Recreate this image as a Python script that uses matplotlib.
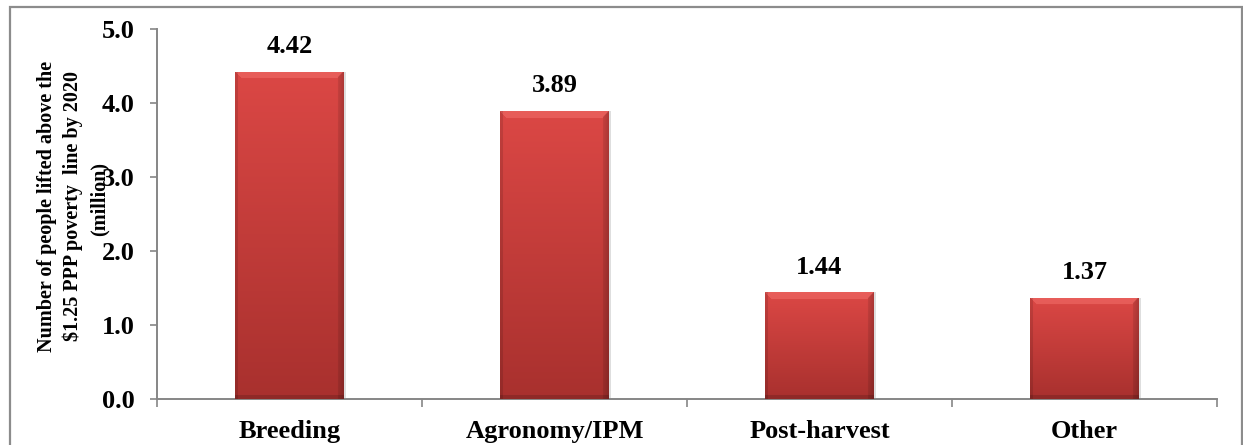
import matplotlib
matplotlib.use('Agg')
import matplotlib.pyplot as plt
import numpy as np
from matplotlib.patches import Rectangle

categories = ['Breeding', 'Agronomy/IPM', 'Post-harvest', 'Other']
people_lifted = [4.42, 3.89, 1.44, 1.37]
y_ticks = [0.0, 1.0, 2.0, 3.0, 4.0, 5.0]
y_label_main = 'Number of people lifted above the\n\\$1.25 PPP poverty  line by 2020'
y_label_unit = '(million)'

plt.rcParams['font.family'] = ['Liberation Serif', 'DejaVu Serif']
plt.rcParams['font.weight'] = 'bold'

W, H = 1243, 445
fig = plt.figure(figsize=(W / 100, H / 100), dpi=100)
ax = fig.add_axes([157 / W, (H - 399) / H, (1217 - 157) / W, (399 - 29) / H])

# outer frame round the whole chart
fig.patches.append(Rectangle((10 / W, -0.05), (1242 - 10) / W, (H - 7) / H + 0.05,
                             transform=fig.transFigure, fill=False,
                             edgecolor='#8c8c8c', linewidth=1.6))

x = np.arange(len(categories))
bar_w = 0.41
bars = ax.bar(x, people_lifted, width=bar_w, color='#c83c3a', edgecolor='none', zorder=2)


def bar_image(h, nx=108):
    ny = max(int(h * 74), 10)
    t = np.linspace(0, 1, ny)[:, None]            # 0 = top, 1 = bottom
    top = np.array([0.86, 0.28, 0.27])
    bot = np.array([0.66, 0.19, 0.18])
    img = top + (bot - top) * t[..., None]
    img = np.repeat(img, nx, axis=1)
    xs = np.arange(nx)
    ys = np.arange(ny)
    # bevel: light top edge with slanted corners, darker sides and bottom
    for j in range(7):
        row = (xs >= j) & (xs < nx - j)
        img[j, row, :] = img[j, row, :] * 0.55 + np.array([0.97, 0.47, 0.45]) * 0.45
    for j in range(6):
        col = nx - 1 - j
        img[j:, col, :] *= 0.8 + 0.02 * j
    img[:, :3, :] *= 0.88
    img[ys >= ny - 4, :, :] *= 0.85
    return np.clip(img, 0, 1)


for rect, v in zip(bars, people_lifted):
    x0 = rect.get_x()
    # soft shadow to the right
    ax.add_patch(Rectangle((x0 + 0.01, 0), bar_w, v, facecolor='#dedede',
                           edgecolor='none', zorder=1))
    im = ax.imshow(bar_image(v), extent=(x0, x0 + bar_w, 0, v), aspect='auto',
                   interpolation='bilinear', zorder=3)
    im.set_clip_path(rect)
    ax.annotate(f'{v:.2f}', (rect.get_x() + bar_w / 2, v), xytext=(0, 10),
                textcoords='offset points', ha='center', va='bottom',
                fontsize=19, fontweight='bold')

ax.set_xlim(-0.5, len(categories) - 0.5)
ax.set_ylim(0, 5)
ax.set_yticks(y_ticks)
ax.set_yticklabels([f'{t:.1f}' for t in y_ticks], fontsize=19, fontweight='bold')
ax.set_xticks(x)
ax.set_xticklabels(categories, fontsize=19, fontweight='bold')
ax.set_xticks(np.arange(len(categories) + 1) - 0.5, minor=True)

ax.tick_params(axis='y', direction='out', length=5, width=1.2, color='#868686', pad=11)
ax.tick_params(axis='x', which='major', length=0, pad=15)
ax.tick_params(axis='x', which='minor', direction='out', length=6, width=1.2, color='#868686')

for s in ['top', 'right']:
    ax.spines[s].set_visible(False)
for s in ['left', 'bottom']:
    ax.spines[s].set_color('#868686')
    ax.spines[s].set_linewidth(1.4)

# y-axis title: two main lines, unit line sits over the tick labels
fig.text(60 / W, (H - 206) / H, y_label_main, rotation=90, ha='center', va='center',
         fontsize=14.5, fontweight='bold', linespacing=1.4, multialignment='center')
fig.text(100 / W, (H - 199) / H, y_label_unit, rotation=90, ha='center', va='center',
         fontsize=14.5, fontweight='bold')

fig.savefig('out.png', dpi=100)
